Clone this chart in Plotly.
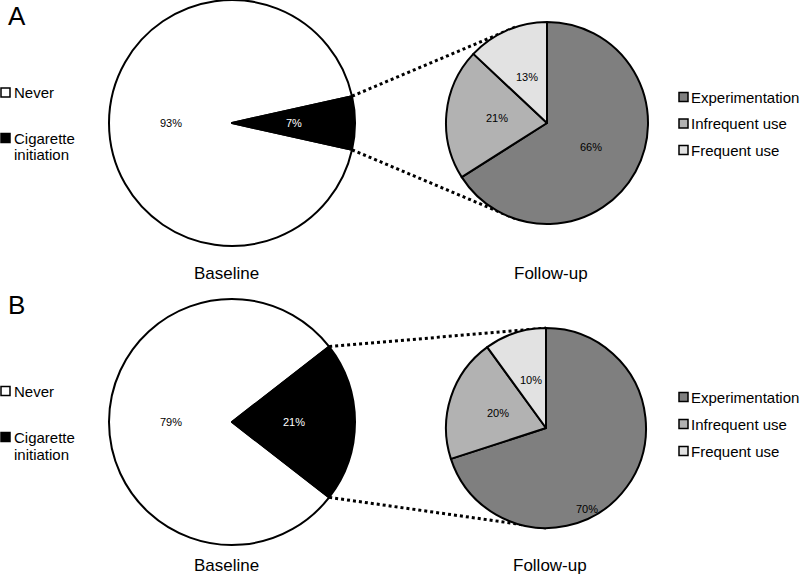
import math
import plotly.graph_objects as go

W, H = 802, 577

# ---------------- data ----------------
baseline_labels = ["Never", "Cigarette<br>initiation"]
baseline_colors = ["#FFFFFF", "#000000"]
baseline_text_colors = ["#000000", "#FFFFFF"]
baseline_A = [93, 7]
baseline_B = [79, 21]

followup_labels = ["Experimentation", "Infrequent use", "Frequent use"]
followup_colors = ["#7F7F7F", "#B2B2B2", "#E2E2E2"]
followup_A = [66, 21, 13]
followup_B = [70, 20, 10]

panel_letters = ["A", "B"]
pie_titles = ["Baseline", "Follow-up"]

FONT = "Liberation Sans, Arial, Helvetica, sans-serif"

# ---------------- layout geometry (pixels) ----------------
panels = [
    dict(letter="A", base=baseline_A, fol=followup_A,
         bc=(232, 123), br=123, fc=(547, 123), fr=101,
         end_top=-18, end_bot=197, title_y=273, letter_y=16,
         left_leg_y=[92.5, 138], right_leg_y=[97, 123.5, 150],
         fol_label_override={}),
    dict(letter="B", base=baseline_B, fol=followup_B,
         bc=(232, 422), br=123, fc=(546, 428), fr=100,
         end_top=0, end_bot=180, title_y=565, letter_y=305,
         left_leg_y=[391, 437], right_leg_y=[397, 424, 451],
         fol_label_override={0: (153, 0.91)}),
]


def px(x):
    return x / W


def py(y):
    return 1 - y / H


def domain(c, r):
    return dict(x=[px(c[0] - r), px(c[0] + r)], y=[py(c[1] + r), py(c[1] - r)])


def slice_labels(values, start, center, radius, colors, override=None):
    """Percent labels at half radius on each slice's bisector (clockwise from start)."""
    override = override or {}
    total = sum(values)
    acc = 0.0
    out = []
    for i, (v, col) in enumerate(zip(values, colors)):
        mid = start + (acc + v / 2) / total * 360
        frac = 0.5
        acc += v
        if i in override:
            mid, frac = override[i]
        a = math.radians(mid)
        x = center[0] + frac * radius * math.sin(a)
        y = center[1] - frac * radius * math.cos(a)
        out.append(dict(text=f"{v}%", x=px(x), y=py(y), xref="paper", yref="paper",
                        showarrow=False, xanchor="center", yanchor="middle",
                        font=dict(family=FONT, size=11, color=col)))
    return out


fig = go.Figure()
shapes = []
annotations = []

for p in panels:
    base = p["base"]
    frac_cig = base[1] / sum(base)
    rot = 90 + frac_cig * 180  # centre the initiation slice at 3 o'clock
    fig.add_trace(go.Pie(
        labels=baseline_labels, values=base, sort=False, direction="clockwise",
        rotation=rot, domain=domain(p["bc"], p["br"]),
        marker=dict(colors=baseline_colors, line=dict(color="black", width=2)),
        textinfo="none", showlegend=False, hoverinfo="label+percent",
    ))
    annotations += slice_labels(base, rot, p["bc"], p["br"], baseline_text_colors)

    fol = p["fol"]
    fig.add_trace(go.Pie(
        labels=followup_labels, values=fol, sort=False, direction="clockwise",
        rotation=0, domain=domain(p["fc"], p["fr"]),
        marker=dict(colors=followup_colors, line=dict(color="black", width=2)),
        textinfo="none", showlegend=False, hoverinfo="label+percent",
    ))
    annotations += slice_labels(fol, 0, p["fc"], p["fr"], ["black"] * len(fol),
                                p["fol_label_override"])

    # dotted connector lines derived from the initiation slice edges
    half = frac_cig * 180
    bx, by = p["bc"]
    fx, fy = p["fc"]
    for sign, end_ang in ((-1, p["end_top"]), (1, p["end_bot"])):
        a = math.radians(sign * half)
        x0 = bx + p["br"] * math.cos(a)
        y0 = by + p["br"] * math.sin(a)
        e = math.radians(end_ang)
        x1 = fx + p["fr"] * math.sin(e)
        y1 = fy - p["fr"] * math.cos(e)
        shapes.append(dict(type="line", xref="paper", yref="paper",
                           x0=px(x0), y0=py(y0), x1=px(x1), y1=py(y1),
                           line=dict(color="black", width=3, dash="dot"),
                           layer="below"))

    # titles under pies
    for title, cx in zip(pie_titles, (bx - 6, fx + 4)):
        annotations.append(dict(text=title, x=px(cx), y=py(p["title_y"]),
                                xref="paper", yref="paper", showarrow=False,
                                xanchor="center", yanchor="middle",
                                font=dict(family=FONT, size=17, color="black")))
    # panel letter
    annotations.append(dict(text=p["letter"], x=px(6), y=py(p["letter_y"]),
                            xref="paper", yref="paper", showarrow=False,
                            xanchor="left", yanchor="middle",
                            font=dict(family=FONT, size=26, color="black")))

    # left legend (baseline)
    for lab, col, ly in zip(baseline_labels, baseline_colors, p["left_leg_y"]):
        shapes.append(dict(type="rect", xref="paper", yref="paper",
                           x0=px(1), x1=px(10), y0=py(ly - 4.5), y1=py(ly + 4.5),
                           fillcolor=col, line=dict(color="black", width=1.5)))
        for k, line in enumerate(lab.split("<br>")):
            annotations.append(dict(text=line, x=px(12), y=py(ly + 17 * k),
                                    xref="paper", yref="paper", showarrow=False,
                                    xanchor="left", yanchor="middle", align="left",
                                    font=dict(family=FONT, size=15, color="black")))
    # right legend (follow-up)
    for lab, col, ly in zip(followup_labels, followup_colors, p["right_leg_y"]):
        shapes.append(dict(type="rect", xref="paper", yref="paper",
                           x0=px(679), x1=px(688), y0=py(ly - 4.5), y1=py(ly + 4.5),
                           fillcolor=col, line=dict(color="black", width=1.5)))
        annotations.append(dict(text=lab, x=px(689), y=py(ly),
                                xref="paper", yref="paper", showarrow=False,
                                xanchor="left", yanchor="middle", align="left",
                                font=dict(family=FONT, size=15, color="black")))

fig.update_layout(
    width=W, height=H, margin=dict(l=0, r=0, t=0, b=0),
    paper_bgcolor="white", plot_bgcolor="white",
    shapes=shapes, annotations=annotations,
    font=dict(family=FONT, color="black"),
)

fig.write_html("out.html", config={"displayModeBar": False},
               post_script="document.body.style.margin='0px';")
